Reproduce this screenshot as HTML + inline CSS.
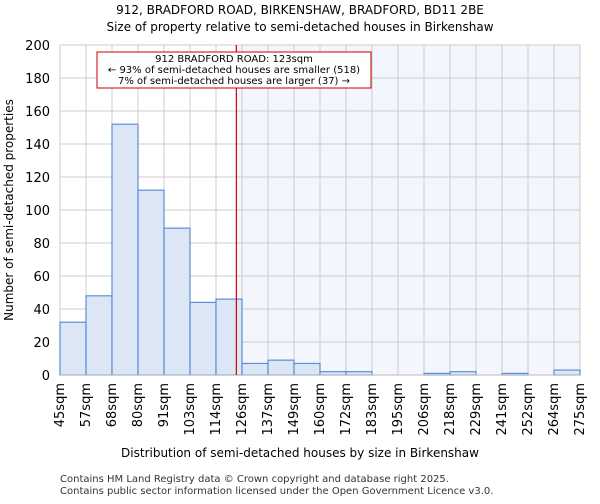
<!DOCTYPE html>
<html><head><meta charset="utf-8"><style>
body{margin:0;background:#fff;font-family:"DejaVu Sans","Liberation Sans",sans-serif;}
</style></head><body>
<svg id="c" width="600" height="500" xmlns="http://www.w3.org/2000/svg" font-family="DejaVu Sans, Liberation Sans, sans-serif">
<text x="300" y="14" text-anchor="middle" font-size="12">912, BRADFORD ROAD, BIRKENSHAW, BRADFORD, BD11 2BE</text>
<text x="300" y="31" text-anchor="middle" font-size="12">Size of property relative to semi-detached houses in Birkenshaw</text>
<g id="plot"></g>
<text x="300" y="457" text-anchor="middle" font-size="12">Distribution of semi-detached houses by size in Birkenshaw</text>
<text x="13" y="210" text-anchor="middle" font-size="12" transform="rotate(-90 13 210)">Number of semi-detached properties</text>
<text x="60" y="482" font-size="10" fill="#333">Contains HM Land Registry data © Crown copyright and database right 2025.</text>
<text x="60" y="494" font-size="10" fill="#333">Contains public sector information licensed under the Open Government Licence v3.0.</text>
</svg>
<script>
const xLabels=["45sqm","57sqm","68sqm","80sqm","91sqm","103sqm","114sqm","126sqm","137sqm","149sqm","160sqm","172sqm","183sqm","195sqm","206sqm","218sqm","229sqm","241sqm","252sqm","264sqm","275sqm"];
const counts=[32,48,152,112,89,44,46,7,9,7,2,2,0,0,1,2,0,1,0,3];
const yTicks=[0,20,40,60,80,100,120,140,160,180,200];
const propertySize=123;
const binEdges=[45,56.5,68,79.5,91,102.5,114,125.5,137,148.5,160,171.5,183,194.5,206,217.5,229,240.5,252,263.5,275];
const NS="http://www.w3.org/2000/svg";
const L=60,R=580,T=45,B=375;
const g=document.getElementById('plot');
const xs=i=>L+i*(R-L)/counts.length;
const ys=v=>B-v*(B-T)/200;
function xv(v){for(let i=0;i<binEdges.length-1;i++){if(v<=binEdges[i+1])return xs(i)+(v-binEdges[i])/(binEdges[i+1]-binEdges[i])*(xs(i+1)-xs(i));}return R;}
function mk(t,a,p){const e=document.createElementNS(NS,t);for(const k in a)e.setAttribute(k,a[k]);(p||g).appendChild(e);return e;}
const px=xv(propertySize);
let e=mk('rect',{x:px,y:T,width:R-px,height:B-T,fill:'#f3f6fd'});


yTicks.forEach(v=>{let l=mk('line',{x1:L,x2:R,y1:ys(v),y2:ys(v),stroke:'#cccccc'});


let t=mk('text',{x:L-10,y:ys(v)+5,'text-anchor':'end','font-size':13});t.textContent=v;

});
xLabels.forEach((s,i)=>{let l=mk('line',{x1:xs(i),x2:xs(i),y1:T,y2:B,stroke:'#cccccc'});


let x=xs(i)+4,y=B+8;let t=mk('text',{x:x,y:y,'text-anchor':'end','font-size':13,transform:`rotate(-90 ${x} ${y})`});t.textContent=s;

});
counts.forEach((v,i)=>{let r=mk('rect',{x:xs(i),y:ys(v),width:xs(i+1)-xs(i),height:B-ys(v),fill:'#dce6f4',stroke:'#5b8fd6','stroke-width':1.2});

});
e=mk('line',{x1:L,x2:R,y1:B,y2:B,stroke:'#bbb'});


e=mk('line',{x1:px,x2:px,y1:T,y2:B,stroke:'#cc0000','stroke-width':1.2});


const box=mk('g',{});


mk('rect',{x:97,y:52,width:274,height:36,fill:'#fff',stroke:'#cc0000'},box);
[["912 BRADFORD ROAD: 123sqm",62],["← 93% of semi-detached houses are smaller (518)",73],["7% of semi-detached houses are larger (37) →",84]].forEach(([s,y])=>{let t=mk('text',{x:234,y:y,'text-anchor':'middle','font-size':10},box);t.textContent=s;});
</script>
</body></html>
